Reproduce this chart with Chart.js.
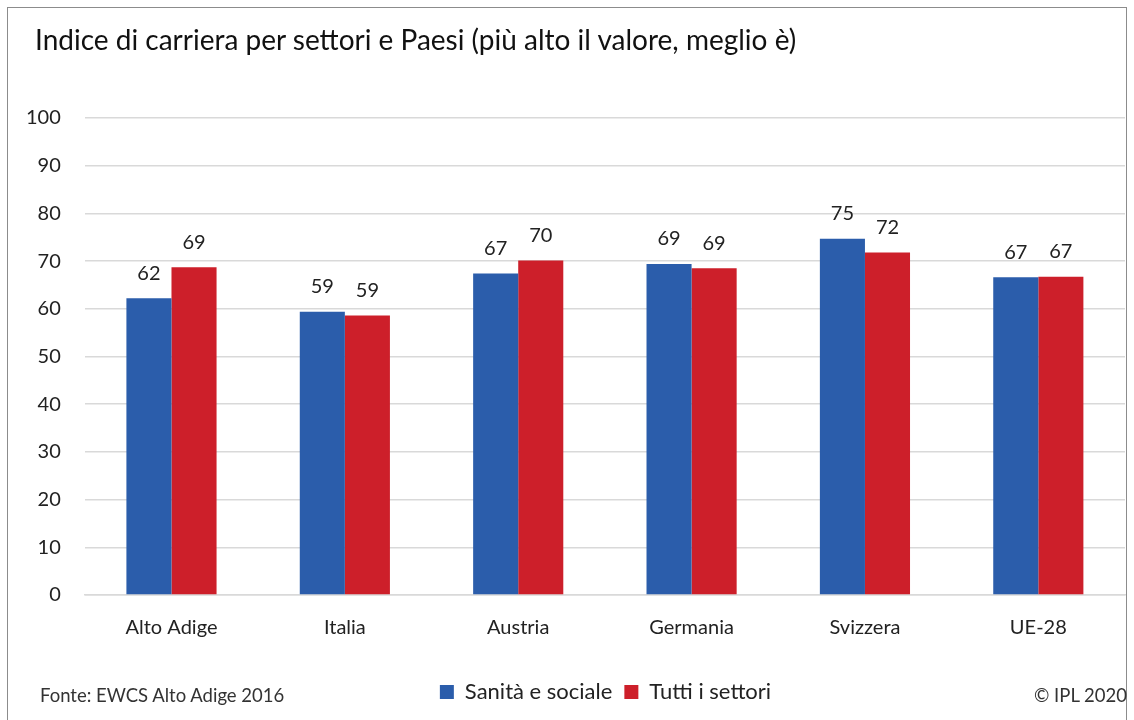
<!DOCTYPE html>
<html>
<head>
<meta charset="utf-8">
<script src="https://cdn.jsdelivr.net/npm/chart.js@4.4.1/dist/chart.umd.min.js"></script>
<style>
    html, body { margin: 0; padding: 0; background: #fff; }
    #wrap { position: relative; width: 1134px; height: 720px; overflow: hidden; font-family: Lato, sans-serif; color: #222; }
    #frame { position: absolute; left: 7px; top: 7px; width: 1120px; height: 730px; border: 1.5px solid #8c8c8c; box-sizing: border-box; }
    #title { position: absolute; left: 35px; top: 22px; font-size: 28px; color: #111; }
    #source { position: absolute; left: 40px; top: 684px; font-size: 18.5px; color: #333; }
    #copy { position: absolute; right: 7px; top: 684px; font-size: 18.5px; color: #333; }
    #chart-box { position: absolute; left: 0; top: 0; width: 1134px; height: 720px; }
</style>
</head>
<body>
<div id="wrap">
    <div id="chart-box"><canvas id="careerChart" width="1134" height="720"></canvas></div>
    <div id="frame"></div>
    <div id="title">Indice di carriera per settori e Paesi (più alto il valore, meglio è)</div>
    <div id="source">Fonte: EWCS Alto Adige 2016</div>
    <div id="copy">© IPL 2020</div>
</div>
<script>
// Data
const countries = ['Alto Adige', 'Italia', 'Austria', 'Germania', 'Svizzera', 'UE-28'];
const sanitaSociale = [62.2, 59.4, 67.4, 69.4, 74.7, 66.6];
const tuttiSettori = [68.7, 58.6, 70.1, 68.5, 71.8, 66.7];
const yTicks = [0, 10, 20, 30, 40, 50, 60, 70, 80, 90, 100];

const BLUE = '#2b5dab';
const RED = '#cd1f2a';
const FONT = 'Lato, sans-serif';

// labels above the bars, rounded like the original
const valueLabels = {
    id: 'valueLabels',
    afterDatasetsDraw(chart) {
        const ctx = chart.ctx;
        ctx.save();
        ctx.font = '20px ' + FONT;
        ctx.fillStyle = '#222';
        ctx.textAlign = 'center';
        ctx.textBaseline = 'bottom';
        chart.data.datasets.forEach((ds, i) => {
            chart.getDatasetMeta(i).data.forEach((bar, j) => {
                ctx.fillText(Math.round(ds.data[j]), bar.x, bar.y - 15);
            });
        });
        ctx.restore();
    }
};

// the legend in the original sits a bit right of centre
const legendShift = {
    id: 'legendShift',
    afterLayout(chart) {
        if (chart.legend) {
            chart.legend.left += 42;
            chart.legend.right += 42;
        }
    }
};

new Chart(document.getElementById('careerChart'), {
    type: 'bar',
    data: {
        labels: countries,
        datasets: [
            { label: 'Sanità e sociale', data: sanitaSociale, backgroundColor: BLUE },
            { label: 'Tutti i settori', data: tuttiSettori, backgroundColor: RED }
        ]
    },
    options: {
        responsive: false,
        animation: false,
        layout: { padding: { left: 2, right: 9, top: 118, bottom: 7 } },
        datasets: { bar: { barPercentage: 1, categoryPercentage: 0.52 } },
        plugins: {
            legend: {
                position: 'bottom',
                labels: { color: '#222', boxWidth: 14, boxHeight: 14, padding: 12, font: { size: 22, family: FONT } }
            },
            tooltip: { enabled: false }
        },
        scales: {
            y: {
                min: 0,
                max: 100,
                afterBuildTicks: (axis) => { axis.ticks = yTicks.map(v => ({ value: v })); },
                grid: { color: '#d9d9d9', lineWidth: 1.5, drawTicks: false },
                border: { display: false },
                ticks: { color: '#222', padding: 24, font: { size: 20, family: FONT } }
            },
            x: {
                grid: { display: false },
                border: { color: '#d9d9d9', width: 1.5 },
                ticks: { color: '#222', padding: 13, font: { size: 20, family: FONT } },
                afterFit: (axis) => { axis.height += 16; }
            }
        }
    },
    plugins: [valueLabels, legendShift]
});
</script>
</body>
</html>
